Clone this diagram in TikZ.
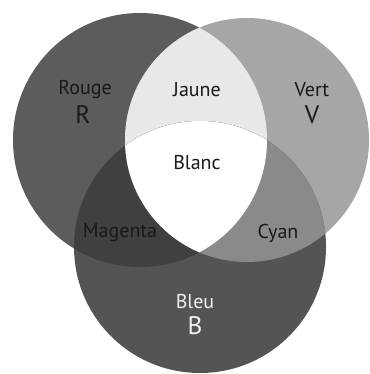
\documentclass[tikz,border=0pt]{standalone}
\usepackage{fontspec}
\setmainfont{PT Sans}
\definecolor{gRouge}{gray}{0.36}
\definecolor{gVert}{gray}{0.65}
\definecolor{gBleu}{gray}{0.33}
\definecolor{gJaune}{gray}{0.91}
\definecolor{gMagenta}{gray}{0.25}
\definecolor{gCyan}{gray}{0.54}
\definecolor{gTexte}{gray}{0.1}
\newcommand\rayonR{127}
\newcommand\rayonV{122}
\newcommand\rayonB{126}
\begin{document}
\begin{tikzpicture}[x=0.75pt, y=0.75pt,
  lbl/.style={font=\fontsize{15}{17}\selectfont, text=gTexte, inner sep=0pt},
  big/.style={font=\fontsize{19}{21}\selectfont, text=gTexte, inner sep=0pt}]
\useasboundingbox (0,0) rectangle (369,374);
\coordinate (cR) at (140,234);
\coordinate (cV) at (247,234);
\coordinate (cB) at (200,127);
% trois disques
\fill[gRouge] (cR) circle[radius=\rayonR];
\fill[gVert] (cV) circle[radius=\rayonV];
\fill[gBleu] (cB) circle[radius=\rayonB];
% intersections deux a deux
\begin{scope}
  \clip (cR) circle[radius=\rayonR];
  \fill[gJaune] (cV) circle[radius=\rayonV];
  \fill[gMagenta] (cB) circle[radius=\rayonB];
\end{scope}
\begin{scope}
  \clip (cV) circle[radius=\rayonV];
  \fill[gCyan] (cB) circle[radius=\rayonB];
  \clip (cR) circle[radius=\rayonR];
  \fill[white] (cB) circle[radius=\rayonB];
\end{scope}
% textes
\node[lbl] (rouge) at (85,284) {Rouge};
\node[big] (lettreR) at (83,259) {R};
\node[lbl] (jaune) at (197,284) {Jaune};
\node[lbl] (vert) at (312,284) {Vert};
\node[big] (lettreV) at (312,259) {V};
\node[lbl] (blanc) at (197,211) {Blanc};
\node[lbl] (magenta) at (120,141) {Magenta};
\node[lbl] (cyan) at (278,141) {Cyan};
\node[lbl, text=gray!12] (bleu) at (195,72) {Bleu};
\node[big, text=gray!12] (lettreB) at (195,48) {B};
\end{tikzpicture}
\end{document}
